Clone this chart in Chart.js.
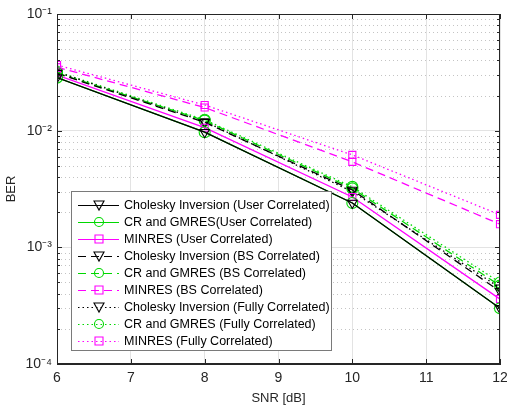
<!DOCTYPE html>
<html>
<head>
<meta charset="utf-8">
<script src="https://cdn.jsdelivr.net/npm/chart.js@4.4.1/dist/chart.umd.min.js"></script>
<style>
  html, body { margin: 0; padding: 0; background: #fff; }
</style>
</head>
<body>
<canvas id="berChart" width="507" height="406"></canvas>
<script>
// SNR points (dB)
const snr = [6, 8, 10, 12];

// BER values
const cholUser = [0.0285, 0.0097, 0.0024, 0.00030];
const crUser = [0.0285, 0.0097, 0.0024, 0.00030];
const minresUser = [0.0300, 0.0106, 0.0027, 0.00036];
const cholBS = [0.0310, 0.0118, 0.0031, 0.00042];
const crBS = [0.0312, 0.0122, 0.0032, 0.00047];
const minresBS = [0.0350, 0.0158, 0.0054, 0.00158];
const cholFully = [0.0318, 0.0120, 0.0030, 0.00045];
const crFully = [0.0320, 0.0124, 0.0033, 0.00050];
const minresFully = [0.0365, 0.0166, 0.0062, 0.00190];

const yTickValues = [1e-4, 1e-3, 1e-2, 1e-1];
const yTickLabels = ['10⁻⁴', '10⁻³', '10⁻²', '10⁻¹'];

const BLACK = '#000000';
const GREEN = '#00d800';
const MAGENTA = '#ff00ff';
const SOLID = [];
const DASHED = [8, 5];
const DOTTED = [1.5, 3];
const FONT = "'Liberation Sans', Arial, Helvetica, sans-serif";

function series(label, values, color, dash, marker) {
  return {
    label: label,
    data: values.map((v, i) => ({ x: snr[i], y: v })),
    borderColor: color,
    backgroundColor: 'rgba(0,0,0,0)',
    borderWidth: 1.3,
    borderDash: dash,
    pointStyle: marker === 'tri' ? 'triangle' : marker,
    pointRotation: marker === 'tri' ? 180 : 0,
    pointRadius: marker === 'rect' ? 5 : 5.5,
    pointBorderColor: color,
    pointBackgroundColor: 'rgba(0,0,0,0)',
    pointBorderWidth: 1.1,
    tension: 0,
    fill: false
  };
}

const datasets = [
  series('Cholesky Inversion (User Correlated)', cholUser, BLACK, SOLID, 'tri'),
  series('CR and GMRES(User Correlated)', crUser, GREEN, SOLID, 'circle'),
  series('MINRES (User Correlated)', minresUser, MAGENTA, SOLID, 'rect'),
  series('Cholesky Inversion (BS Correlated)', cholBS, BLACK, DASHED, 'tri'),
  series('CR and GMRES (BS Correlated)', crBS, GREEN, DASHED, 'circle'),
  series('MINRES (BS Correlated)', minresBS, MAGENTA, DASHED, 'rect'),
  series('Cholesky Inversion (Fully Correlated)', cholFully, BLACK, DOTTED, 'tri'),
  series('CR and GMRES (Fully Correlated)', crFully, GREEN, DOTTED, 'circle'),
  series('MINRES (Fully Correlated)', minresFully, MAGENTA, DOTTED, 'rect')
];

function drawMarker(ctx, ds, x, y) {
  ctx.save();
  ctx.setLineDash([]);
  ctx.strokeStyle = ds.pointBorderColor;
  ctx.lineWidth = 1.1;
  ctx.beginPath();
  if (ds.pointStyle === 'circle') {
    ctx.arc(x, y, 4.5, 0, Math.PI * 2);
  } else if (ds.pointStyle === 'rect') {
    ctx.rect(x - 4, y - 4, 8, 8);
  } else {
    ctx.moveTo(x - 5, y - 4);
    ctx.lineTo(x + 5, y - 4);
    ctx.lineTo(x, y + 5);
    ctx.closePath();
  }
  ctx.stroke();
  ctx.restore();
}

// MATLAB-like frame: minor grid, box, inward ticks, legend inside axes
const matlabFrame = {
  id: 'matlabFrame',
  beforeDatasetsDraw(chart) {
    const { ctx, chartArea: a, scales: { y } } = chart;
    ctx.save();
    ctx.strokeStyle = '#c4c4c4';
    ctx.lineWidth = 1;
    ctx.setLineDash([1, 3]);
    for (let d = -4; d < -1; d++) {
      for (let k = 2; k <= 9; k++) {
        const py = Math.round(y.getPixelForValue(k * Math.pow(10, d))) + 0.5;
        ctx.beginPath();
        ctx.moveTo(a.left, py);
        ctx.lineTo(a.right, py);
        ctx.stroke();
      }
    }
    ctx.restore();
  },
  afterDatasetsDraw(chart) {
    const { ctx, chartArea: a, scales: { x, y } } = chart;
    ctx.save();
    ctx.strokeStyle = '#262626';
    ctx.lineWidth = 1;
    ctx.setLineDash([]);
    ctx.strokeRect(Math.round(a.left) + 0.5, Math.round(a.top) + 0.5,
      Math.round(a.right - a.left) - 1, Math.round(a.bottom - a.top) - 1);
    ctx.beginPath();
    // x ticks, bottom and top
    for (let v = 6; v <= 12; v++) {
      const px = Math.round(x.getPixelForValue(v)) + 0.5;
      ctx.moveTo(px, a.bottom); ctx.lineTo(px, a.bottom - 5);
      ctx.moveTo(px, a.top); ctx.lineTo(px, a.top + 5);
    }
    // y ticks, left and right
    for (let d = -4; d <= -1; d++) {
      for (let k = 1; k <= 9; k++) {
        if (d === -1 && k > 1) break;
        const len = k === 1 ? 5 : 3;
        const py = Math.round(y.getPixelForValue(k * Math.pow(10, d))) + 0.5;
        ctx.moveTo(a.left, py); ctx.lineTo(a.left + len, py);
        ctx.moveTo(a.right, py); ctx.lineTo(a.right - len, py);
      }
    }
    ctx.stroke();

    // legend box
    const lx = a.left + 14, ly = a.bottom - 173, lw = 260, lh = 159;
    ctx.fillStyle = '#ffffff';
    ctx.fillRect(lx, ly, lw, lh);
    ctx.strokeStyle = '#7a7a7a';
    ctx.strokeRect(lx + 0.5, ly + 0.5, lw, lh);
    ctx.font = '12.5px ' + FONT;
    ctx.textBaseline = 'middle';
    ctx.fillStyle = '#000000';
    chart.data.datasets.forEach((ds, i) => {
      const ry = ly + 14 + i * 17;
      ctx.save();
      ctx.strokeStyle = ds.borderColor;
      ctx.lineWidth = 1.2;
      ctx.setLineDash(ds.borderDash);
      ctx.beginPath();
      ctx.moveTo(lx + 7, ry + 0.5);
      ctx.lineTo(lx + 48, ry + 0.5);
      ctx.stroke();
      ctx.restore();
      drawMarker(ctx, ds, lx + 28, ry);
      ctx.fillText(ds.label, lx + 53, ry + 1);
    });
    ctx.restore();
  }
};

new Chart(document.getElementById('berChart'), {
  type: 'line',
  data: { datasets: datasets },
  options: {
    responsive: false,
    animation: false,
    devicePixelRatio: 1,
    layout: { padding: { left: 0, right: 7, top: 14, bottom: 0 } },
    scales: {
      x: {
        type: 'linear',
        min: 6,
        max: 12,
        afterFit(scale) {
          scale.height = 42;
          scale.paddingLeft = 0;
          scale.paddingRight = 0;
        },
        ticks: { stepSize: 1, color: '#262626', padding: 6, font: { family: FONT, size: 14 } },
        grid: { color: '#e3e3e3', drawTicks: false },
        border: { color: '#262626' },
        title: {
          display: true, text: 'SNR [dB]', color: '#262626',
          font: { family: FONT, size: 13 }, padding: { top: 2, bottom: 0 }
        }
      },
      y: {
        type: 'logarithmic',
        min: 1e-4,
        max: 1e-1,
        afterFit(scale) { scale.width = 57; },
        afterBuildTicks(scale) {
          scale.ticks = yTickValues.map(v => ({ value: v, major: true }));
        },
        ticks: {
          color: '#262626', padding: 5, font: { family: FONT, size: 14 },
          callback: (value) => yTickLabels[yTickValues.findIndex(t => Math.abs(t - value) < t * 1e-6)]
        },
        grid: { color: '#e3e3e3', drawTicks: false },
        border: { color: '#262626' },
        title: {
          display: true, text: 'BER', color: '#262626',
          font: { family: FONT, size: 13 }, padding: { top: 4, bottom: 0 }
        }
      }
    },
    plugins: {
      legend: { display: false },
      tooltip: { enabled: false }
    }
  },
  plugins: [matlabFrame]
});
</script>
</body>
</html>
